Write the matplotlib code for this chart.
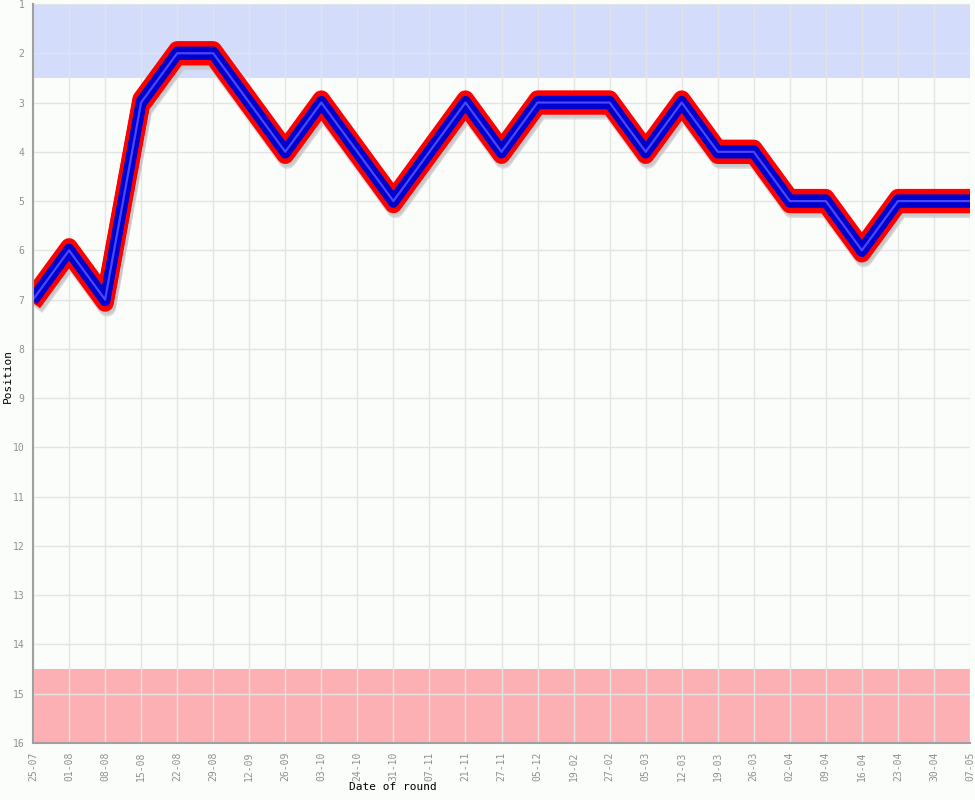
import numpy as np
import matplotlib.pyplot as plt
import matplotlib.transforms as mtransforms

dates = ['25-07', '01-08', '08-08', '15-08', '22-08', '29-08', '12-09', '26-09',
         '03-10', '24-10', '31-10', '07-11', '21-11', '27-11', '05-12', '19-02',
         '27-02', '05-03', '12-03', '19-03', '26-03', '02-04', '09-04', '16-04',
         '23-04', '30-04', '07-05']
position = [7, 6, 7, 3, 2, 2, 3, 4, 3, 4, 5, 4, 3, 4, 3, 3, 3, 4, 3, 4, 4, 5, 5, 6, 5, 5, 5]

top_zone = (1, 2.5)
bottom_zone = (14.5, 16)

bg = '#fbfdfa'
fig = plt.figure(figsize=(9.75, 8), dpi=100, facecolor=bg)
ax = fig.add_axes([33/975, 57/800, 937/975, 739/800])
ax.set_facecolor(bg)

x = np.arange(len(dates))

# zones
ax.axhspan(*top_zone, color='#d3dcfb', zorder=0.1, lw=0)
ax.axhspan(*bottom_zone, color='#fcb0b4', zorder=0.1, lw=0)

# grid
ax.set_axisbelow(True)
ax.grid(True, color='#e4e4e4', lw=1.0, zorder=0.5)


def band(dx, dy_list, **kw):
    # draw the line several times, shifted vertically, like a flat brush
    for dy in dy_list:
        tr = mtransforms.offset_copy(ax.transData, fig=fig, x=dx, y=dy, units='dots')
        ax.plot(x, position, transform=tr, solid_joinstyle='round',
                solid_capstyle='butt', **kw)


# shadow
band(2, [-8, -6.5, -5], color='#c4c4c4', lw=13, alpha=0.55, zorder=2)
band(0, [-3.5, -1.75, 0, 1.75, 3.5], color='#ff0000', lw=12.5, zorder=3)
band(0, [-1.5, 0, 1.5], color='#0000cc', lw=7.5, zorder=4)
band(0, [0], color='#4848ff', lw=1.6, zorder=5)

ax.set_xlim(0, len(dates) - 1)
ax.set_ylim(16, 1)
ax.set_yticks(np.arange(1, 17))
ax.set_xticks(x)
ax.set_xticklabels(dates, rotation=90)

for s in ['top', 'right']:
    ax.spines[s].set_visible(False)
for s in ['left', 'bottom']:
    ax.spines[s].set_color('#a0a0a0')
    ax.spines[s].set_linewidth(1.5)
    ax.spines[s].set_zorder(6)

ax.tick_params(colors='#a0a0a0', labelsize=7, length=0, pad=6)
for lab in ax.get_xticklabels() + ax.get_yticklabels():
    lab.set_fontfamily('DejaVu Sans Mono')
    lab.set_color('#909090')

fig.text(8/975, 1 - 376/800, 'Position', rotation=90, fontsize=8,
         family='DejaVu Sans Mono', ha='center', va='center')
fig.text(393/975, 1 - 787/800, 'Date of round', fontsize=8,
         family='DejaVu Sans Mono', ha='center', va='center')

fig.savefig('out.png', dpi=100, facecolor=bg)
